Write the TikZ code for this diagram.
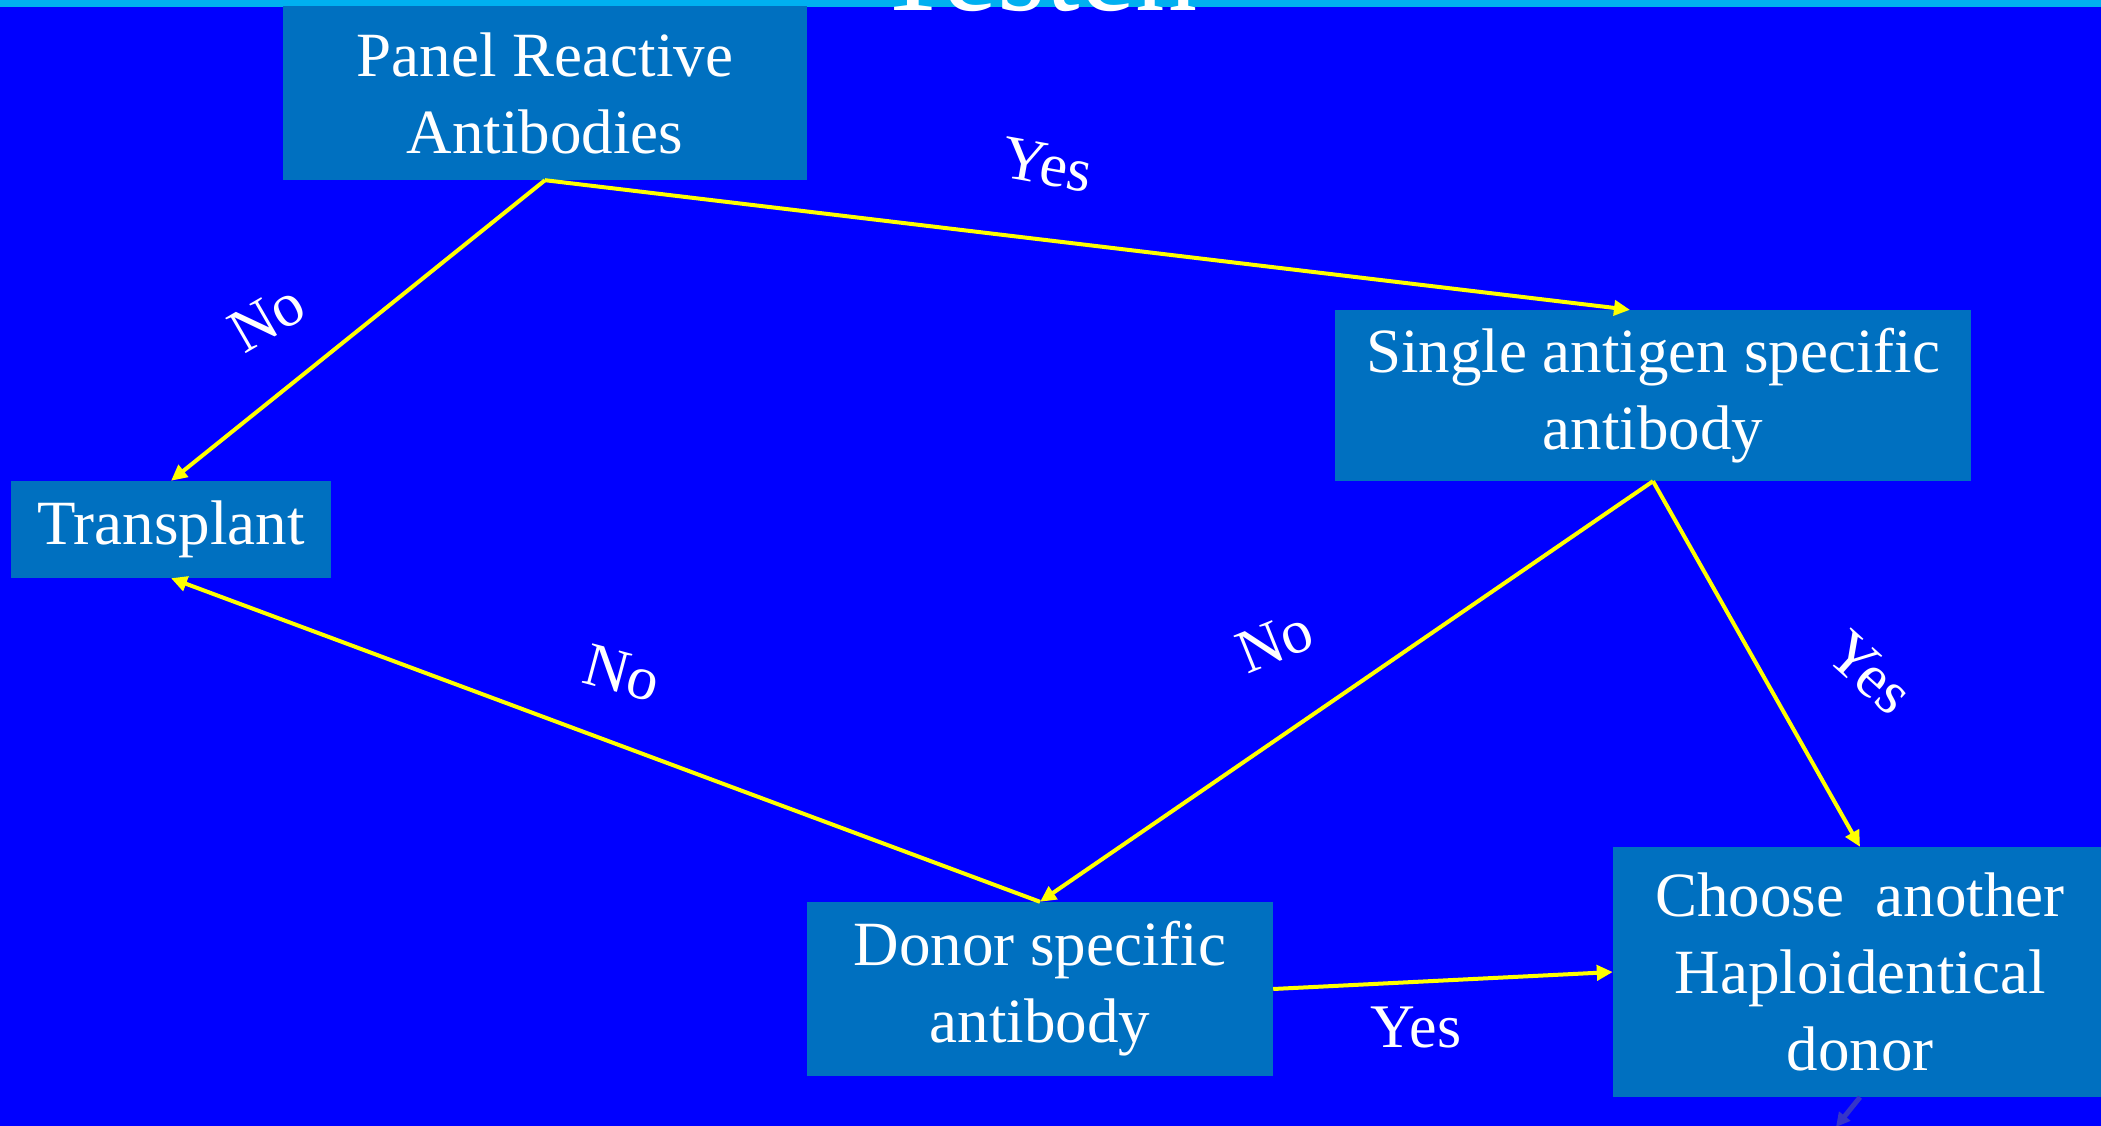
\documentclass[tikz,border=0pt]{standalone}
\usepackage{fontspec}
\setmainfont{Liberation Serif}
\usetikzlibrary{arrows.meta}
\definecolor{bgblue}{HTML}{0000FF}
\definecolor{boxblue}{HTML}{0070C0}
\definecolor{bandblue}{HTML}{00B0F0}
\definecolor{arrowyellow}{HTML}{FFFF00}
\definecolor{darkarrow}{HTML}{3535C8}
\tikzset{
  flowbox/.style={fill=boxblue, draw=none, inner sep=0pt, align=center, text=white,
    font=\fontsize{63}{77}\selectfont},
  flowarrow/.style={draw=arrowyellow, line width=4pt, -{Triangle[length=16pt,width=15pt]}},
  answer/.style={text=white, inner sep=0pt, font=\fontsize{62}{70}\selectfont},
}
\begin{document}
\begin{tikzpicture}[x=1pt,y=-1pt]
\useasboundingbox (0,0) rectangle (2101,1126);
\fill[bgblue] (0,0) rectangle (2101,1126);
\fill[bandblue] (0,0) rectangle (2101,7);
\node[anchor=base, text=white, inner sep=0pt, font=\fontsize{124}{130}\selectfont] (title) at (1036,11) {Testen};

\node[flowbox, minimum width=524pt, minimum height=174pt] (pra) at (545,93) {Panel Reactive\\Antibodies};
\node[flowbox, minimum width=636pt, minimum height=171pt] (sas) at (1653,395.5) {Single antigen specific\\antibody};
\node[flowbox, minimum width=320pt, minimum height=97pt] (tp) at (171,529.5) {Transplant};
\node[flowbox, minimum width=466pt, minimum height=174pt] (dsa) at (1040,989) {Donor specific\\antibody};
\node[flowbox, minimum width=494pt, minimum height=250pt] (chn) at (1860,972) {Choose\ \ another\\Haploidentical\\donor};

\coordinate (offbottom) at (1836,1127);

\draw[flowarrow] (pra.south) -- (tp.north);
\draw[flowarrow] (pra.south) -- ([xshift=-23pt]sas.north);
\draw[flowarrow] (sas.south) -- (dsa.north);
\draw[flowarrow] (sas.south) -- (chn.north);
\draw[flowarrow] (dsa.north) -- (tp.south);
\draw[flowarrow] (dsa.east) -- (chn.west);
\draw[draw=darkarrow, line width=5pt, -{Triangle[length=14pt,width=14pt]}] (chn.south) -- (offbottom);

\node[answer, rotate=30] (l1) at (267,318) {No};
\node[answer, rotate=-10] (l2) at (1047,165) {Yes};
\node[answer, rotate=22] (l3) at (1275,642) {No};
\node[answer, rotate=-42] (l4) at (1870,673) {Yes};
\node[answer, rotate=-15] (l5) at (622,673) {No};
\node[answer] (l6) at (1416,1027) {Yes};
\end{tikzpicture}
\end{document}
